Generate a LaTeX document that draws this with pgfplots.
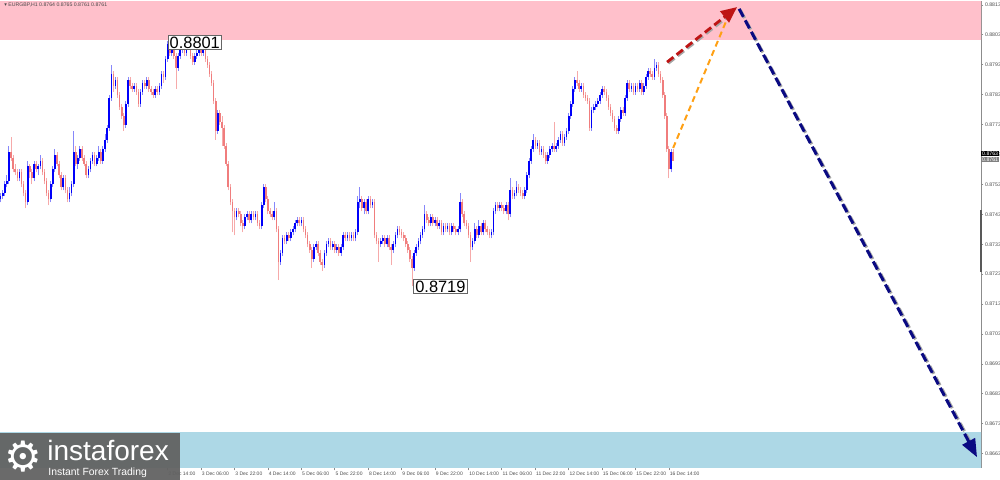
\documentclass[border=0pt]{standalone}
\usepackage{pgfplots}
\pgfplotsset{compat=1.18}
\usepackage{pgfplotstable}
\usepackage{fontspec}
\setmainfont{Liberation Sans}
\newfontfamily\djv{DejaVu Sans}
\usetikzlibrary{arrows.meta}
\definecolor{bodyup}{RGB}{0,0,250}
\definecolor{wickup}{RGB}{135,135,250}
\definecolor{bodydn}{RGB}{240,125,125}
\definecolor{wickdn}{RGB}{246,170,170}
\definecolor{zonepink}{RGB}{255,192,203}
\definecolor{zoneblue}{RGB}{173,216,230}
\definecolor{arrred}{RGB}{190,20,20}
\definecolor{arrorange}{RGB}{255,160,20}
\definecolor{arrnavy}{RGB}{10,10,130}
\definecolor{logogray}{RGB}{98,98,98}
\pgfplotstableread{
o h l c
0.8748 0.8750 0.8747 0.8749
0.8749 0.8751 0.8748 0.8750
0.8750 0.8754 0.8749 0.8753
0.8753 0.8756 0.8752 0.8754
0.8754 0.8766 0.8753 0.8764
0.8764 0.8769 0.8761 0.8762
0.8762 0.8763 0.8757 0.8758
0.8758 0.8760 0.8756 0.8757
0.8757 0.8758 0.8754 0.8755
0.8755 0.8758 0.8754 0.8757
0.8757 0.8758 0.8752 0.8753
0.8753 0.8754 0.8749 0.8750
0.8750 0.8751 0.8745 0.8747
0.8747 0.8761 0.8746 0.8759
0.8759 0.8760 0.8755 0.8757
0.8757 0.8758 0.8753 0.8755
0.8755 0.8761 0.8754 0.8760
0.8760 0.8761 0.8757 0.8758
0.8758 0.8760 0.8756 0.8759
0.8759 0.8763 0.8758 0.8761
0.8761 0.8762 0.8756 0.8757
0.8757 0.8758 0.8753 0.8754
0.8754 0.8755 0.8749 0.8750
0.8750 0.8751 0.8746 0.8748
0.8748 0.8754 0.8747 0.8753
0.8753 0.8759 0.8752 0.8758
0.8758 0.8765 0.8757 0.8763
0.8763 0.8764 0.8759 0.8760
0.8760 0.8761 0.8755 0.8756
0.8756 0.8757 0.8751 0.8752
0.8752 0.8756 0.8751 0.8755
0.8755 0.8756 0.8750 0.8751
0.8751 0.8752 0.8747 0.8748
0.8748 0.8752 0.8747 0.8750
0.8750 0.8754 0.8749 0.8753
0.8753 0.8771 0.8752 0.8764
0.8764 0.8766 0.8759 0.8760
0.8760 0.8763 0.8758 0.8762
0.8762 0.8766 0.8761 0.8765
0.8765 0.8766 0.8761 0.8762
0.8762 0.8763 0.8759 0.8760
0.8760 0.8761 0.8755 0.8756
0.8756 0.8759 0.8755 0.8758
0.8758 0.8762 0.8757 0.8761
0.8761 0.8764 0.8760 0.8763
0.8763 0.8764 0.8759 0.8760
0.8760 0.8763 0.8759 0.8762
0.8762 0.8766 0.8761 0.8764
0.8764 0.8765 0.8760 0.8761
0.8761 0.8766 0.8760 0.8765
0.8765 0.8770 0.8764 0.8768
0.8768 0.8773 0.8767 0.8772
0.8772 0.8783 0.8771 0.8782
0.8782 0.8793 0.8781 0.8790
0.8790 0.8791 0.8784 0.8786
0.8786 0.8789 0.8785 0.8788
0.8788 0.8789 0.8782 0.8783
0.8783 0.8784 0.8778 0.8779
0.8779 0.8780 0.8775 0.8776
0.8776 0.8777 0.8771 0.8773
0.8773 0.8781 0.8772 0.8780
0.8780 0.8789 0.8779 0.8788
0.8788 0.8789 0.8785 0.8786
0.8786 0.8787 0.8784 0.8785
0.8785 0.8787 0.8784 0.8786
0.8786 0.8787 0.8783 0.8784
0.8784 0.8785 0.8779 0.8780
0.8780 0.8785 0.8779 0.8784
0.8784 0.8788 0.8783 0.8787
0.8787 0.8788 0.8785 0.8786
0.8786 0.8789 0.8785 0.8788
0.8788 0.8789 0.8784 0.8785
0.8785 0.8786 0.8783 0.8784
0.8784 0.8785 0.8782 0.8783
0.8783 0.8786 0.8782 0.8785
0.8785 0.8786 0.8783 0.8784
0.8784 0.8787 0.8783 0.8786
0.8786 0.8791 0.8785 0.8790
0.8790 0.8791 0.8787 0.8789
0.8789 0.8796 0.8788 0.8795
0.8795 0.8801 0.8794 0.8800
0.8800 0.8800 0.8796 0.8797
0.8797 0.8800 0.8796 0.8799
0.8799 0.8800 0.8795 0.8796
0.8796 0.8797 0.8785 0.8792
0.8792 0.8797 0.8791 0.8796
0.8796 0.8799 0.8795 0.8798
0.8798 0.8800 0.8797 0.8799
0.8799 0.8800 0.8796 0.8797
0.8797 0.8800 0.8796 0.8799
0.8799 0.8801 0.8798 0.8800
0.8800 0.8800 0.8795 0.8796
0.8796 0.8797 0.8793 0.8794
0.8794 0.8797 0.8793 0.8796
0.8796 0.8798 0.8795 0.8797
0.8797 0.8799 0.8796 0.8798
0.8798 0.8799 0.8796 0.8797
0.8797 0.8799 0.8796 0.8798
0.8798 0.8799 0.8794 0.8795
0.8795 0.8796 0.8792 0.8793
0.8793 0.8794 0.8789 0.8790
0.8790 0.8791 0.8786 0.8787
0.8787 0.8788 0.8780 0.8781
0.8781 0.8782 0.8768 0.8771
0.8771 0.8778 0.8770 0.8777
0.8777 0.8778 0.8773 0.8774
0.8774 0.8776 0.8766 0.8772
0.8772 0.8773 0.8765 0.8766
0.8766 0.8767 0.8759 0.8760
0.8760 0.8761 0.8751 0.8752
0.8752 0.8753 0.8746 0.8747
0.8747 0.8748 0.8737 0.8744
0.8744 0.8745 0.8736 0.8742
0.8742 0.8745 0.8741 0.8744
0.8744 0.8745 0.8742 0.8743
0.8743 0.8744 0.8739 0.8740
0.8740 0.8741 0.8737 0.8739
0.8739 0.8743 0.8738 0.8742
0.8742 0.8744 0.8741 0.8743
0.8743 0.8744 0.8740 0.8741
0.8741 0.8744 0.8740 0.8743
0.8743 0.8744 0.8741 0.8742
0.8742 0.8744 0.8741 0.8743
0.8743 0.8744 0.8739 0.8740
0.8740 0.8741 0.8738 0.8739
0.8739 0.8747 0.8738 0.8746
0.8746 0.8753 0.8745 0.8752
0.8752 0.8753 0.8747 0.8748
0.8748 0.8749 0.8743 0.8744
0.8744 0.8745 0.8742 0.8743
0.8743 0.8744 0.8741 0.8742
0.8742 0.8747 0.8741 0.8744
0.8744 0.8745 0.8737 0.8738
0.8738 0.8739 0.8721 0.8727
0.8727 0.8731 0.8726 0.8730
0.8730 0.8736 0.8729 0.8735
0.8735 0.8736 0.8733 0.8734
0.8734 0.8737 0.8733 0.8736
0.8736 0.8737 0.8734 0.8735
0.8735 0.8738 0.8734 0.8737
0.8737 0.8739 0.8736 0.8738
0.8738 0.8741 0.8737 0.8740
0.8740 0.8742 0.8739 0.8741
0.8741 0.8742 0.8739 0.8740
0.8740 0.8742 0.8739 0.8741
0.8741 0.8742 0.8737 0.8738
0.8738 0.8739 0.8735 0.8736
0.8736 0.8737 0.8732 0.8733
0.8733 0.8734 0.8730 0.8731
0.8731 0.8732 0.8725 0.8728
0.8728 0.8733 0.8727 0.8732
0.8732 0.8734 0.8731 0.8733
0.8733 0.8734 0.8729 0.8730
0.8730 0.8731 0.8726 0.8727
0.8727 0.8728 0.8724 0.8726
0.8726 0.8731 0.8725 0.8730
0.8730 0.8734 0.8729 0.8733
0.8733 0.8735 0.8732 0.8734
0.8734 0.8735 0.8731 0.8732
0.8732 0.8734 0.8731 0.8733
0.8733 0.8734 0.8730 0.8731
0.8731 0.8733 0.8730 0.8732
0.8732 0.8733 0.8729 0.8730
0.8730 0.8733 0.8729 0.8732
0.8732 0.8737 0.8731 0.8736
0.8736 0.8737 0.8734 0.8735
0.8735 0.8737 0.8734 0.8736
0.8736 0.8737 0.8734 0.8735
0.8735 0.8737 0.8734 0.8736
0.8736 0.8737 0.8734 0.8735
0.8735 0.8738 0.8734 0.8737
0.8737 0.8749 0.8736 0.8747
0.8747 0.8752 0.8745 0.8748
0.8748 0.8749 0.8744 0.8745
0.8745 0.8748 0.8743 0.8747
0.8747 0.8748 0.8743 0.8744
0.8744 0.8749 0.8743 0.8748
0.8748 0.8749 0.8745 0.8746
0.8746 0.8748 0.8745 0.8747
0.8747 0.8748 0.8735 0.8736
0.8736 0.8737 0.8733 0.8734
0.8734 0.8735 0.8727 0.8733
0.8733 0.8735 0.8732 0.8734
0.8734 0.8736 0.8733 0.8735
0.8735 0.8736 0.8732 0.8733
0.8733 0.8736 0.8732 0.8735
0.8735 0.8736 0.8731 0.8732
0.8732 0.8733 0.8726 0.8731
0.8731 0.8734 0.8730 0.8733
0.8733 0.8737 0.8732 0.8736
0.8736 0.8739 0.8735 0.8738
0.8738 0.8739 0.8736 0.8737
0.8737 0.8738 0.8735 0.8736
0.8736 0.8737 0.8734 0.8735
0.8735 0.8736 0.8732 0.8733
0.8733 0.8734 0.8730 0.8731
0.8731 0.8732 0.8727 0.8728
0.8728 0.8729 0.8719 0.8725
0.8725 0.8731 0.8724 0.8730
0.8730 0.8733 0.8729 0.8732
0.8732 0.8735 0.8731 0.8734
0.8734 0.8737 0.8733 0.8736
0.8736 0.8739 0.8735 0.8738
0.8738 0.8746 0.8737 0.8743
0.8743 0.8744 0.8740 0.8741
0.8741 0.8742 0.8739 0.8740
0.8740 0.8743 0.8739 0.8742
0.8742 0.8743 0.8739 0.8740
0.8740 0.8742 0.8739 0.8741
0.8741 0.8742 0.8738 0.8739
0.8739 0.8741 0.8738 0.8740
0.8740 0.8741 0.8736 0.8737
0.8737 0.8740 0.8736 0.8739
0.8739 0.8740 0.8737 0.8738
0.8738 0.8740 0.8737 0.8739
0.8739 0.8740 0.8736 0.8737
0.8737 0.8740 0.8736 0.8739
0.8739 0.8740 0.8737 0.8738
0.8738 0.8739 0.8736 0.8737
0.8737 0.8739 0.8736 0.8738
0.8738 0.8750 0.8737 0.8747
0.8747 0.8748 0.8742 0.8743
0.8743 0.8744 0.8739 0.8740
0.8740 0.8741 0.8738 0.8739
0.8739 0.8740 0.8735 0.8736
0.8736 0.8737 0.8727 0.8732
0.8732 0.8735 0.8731 0.8734
0.8734 0.8740 0.8733 0.8738
0.8738 0.8739 0.8735 0.8736
0.8736 0.8741 0.8735 0.8739
0.8739 0.8740 0.8736 0.8737
0.8737 0.8741 0.8736 0.8740
0.8740 0.8741 0.8737 0.8738
0.8738 0.8739 0.8736 0.8737
0.8737 0.8738 0.8735 0.8736
0.8736 0.8738 0.8735 0.8737
0.8737 0.8745 0.8736 0.8744
0.8744 0.8747 0.8743 0.8746
0.8746 0.8747 0.8744 0.8745
0.8745 0.8747 0.8744 0.8746
0.8746 0.8747 0.8744 0.8745
0.8745 0.8746 0.8743 0.8744
0.8744 0.8747 0.8743 0.8746
0.8746 0.8747 0.8741 0.8743
0.8743 0.8755 0.8742 0.8751
0.8751 0.8752 0.8748 0.8749
0.8749 0.8751 0.8748 0.8750
0.8750 0.8754 0.8749 0.8752
0.8752 0.8753 0.8750 0.8751
0.8751 0.8752 0.8749 0.8750
0.8750 0.8751 0.8748 0.8749
0.8749 0.8752 0.8748 0.8751
0.8751 0.8757 0.8750 0.8756
0.8756 0.8762 0.8755 0.8761
0.8761 0.8766 0.8760 0.8765
0.8765 0.8770 0.8764 0.8768
0.8768 0.8769 0.8765 0.8766
0.8766 0.8768 0.8765 0.8767
0.8767 0.8768 0.8763 0.8764
0.8764 0.8766 0.8763 0.8765
0.8765 0.8766 0.8762 0.8763
0.8763 0.8764 0.8760 0.8761
0.8761 0.8764 0.8760 0.8763
0.8763 0.8766 0.8762 0.8765
0.8765 0.8767 0.8764 0.8766
0.8766 0.8774 0.8764 0.8765
0.8765 0.8767 0.8764 0.8766
0.8766 0.8769 0.8765 0.8768
0.8768 0.8771 0.8767 0.8770
0.8770 0.8771 0.8766 0.8767
0.8767 0.8770 0.8766 0.8769
0.8769 0.8772 0.8768 0.8771
0.8771 0.8777 0.8770 0.8776
0.8776 0.8781 0.8775 0.8780
0.8780 0.8786 0.8779 0.8785
0.8785 0.8789 0.8784 0.8788
0.8788 0.8791 0.8786 0.8787
0.8787 0.8788 0.8784 0.8785
0.8785 0.8787 0.8784 0.8786
0.8786 0.8787 0.8782 0.8783
0.8783 0.8784 0.8781 0.8782
0.8782 0.8783 0.8780 0.8781
0.8781 0.8782 0.8771 0.8772
0.8772 0.8779 0.8771 0.8778
0.8778 0.8780 0.8777 0.8779
0.8779 0.8781 0.8778 0.8780
0.8780 0.8782 0.8779 0.8781
0.8781 0.8784 0.8780 0.8783
0.8783 0.8786 0.8782 0.8785
0.8785 0.8786 0.8783 0.8784
0.8784 0.8785 0.8781 0.8782
0.8782 0.8783 0.8778 0.8779
0.8779 0.8780 0.8776 0.8777
0.8777 0.8778 0.8774 0.8775
0.8775 0.8776 0.8771 0.8772
0.8772 0.8773 0.8770 0.8771
0.8771 0.8776 0.8770 0.8775
0.8775 0.8779 0.8774 0.8778
0.8778 0.8779 0.8776 0.8777
0.8777 0.8783 0.8776 0.8782
0.8782 0.8788 0.8781 0.8787
0.8787 0.8788 0.8784 0.8785
0.8785 0.8787 0.8784 0.8786
0.8786 0.8787 0.8783 0.8784
0.8784 0.8787 0.8783 0.8786
0.8786 0.8787 0.8784 0.8785
0.8785 0.8788 0.8784 0.8787
0.8787 0.8788 0.8783 0.8784
0.8784 0.8787 0.8783 0.8786
0.8786 0.8790 0.8785 0.8789
0.8789 0.8792 0.8788 0.8791
0.8791 0.8792 0.8789 0.8790
0.8790 0.8791 0.8788 0.8789
0.8789 0.8795 0.8788 0.8792
0.8792 0.8794 0.8791 0.8793
0.8793 0.8794 0.8789 0.8790
0.8790 0.8791 0.8787 0.8788
0.8788 0.8789 0.8782 0.8783
0.8783 0.8784 0.8775 0.8776
0.8776 0.8777 0.8764 0.8765
0.8765 0.8766 0.8755 0.8758
0.8758 0.8765 0.8757 0.8764
0.8764 0.8765 0.8761 0.8761
}\candles

\begin{document}
\begin{tikzpicture}
\path[use as bounding box] (0,-6pt) rectangle (500pt,234pt);
\begin{axis}[
  at={(0,0)}, anchor=south west,
  scale only axis, width=490.5pt, height=233pt,
  xmin=-0.3, xmax=469.4, ymin=0.86582, ymax=0.88140,
  clip mode=individual,
  axis line style={draw=black!45, line width=0.5pt},
  xtick={80,96,...,320},
  xticklabels={2 Dec 14:00,3 Dec 06:00,3 Dec 22:00,4 Dec 14:00,5 Dec 06:00,5 Dec 22:00,8 Dec 14:00,9 Dec 06:00,9 Dec 22:00,10 Dec 14:00,11 Dec 06:00,11 Dec 22:00,12 Dec 14:00,15 Dec 06:00,15 Dec 22:00,16 Dec 14:00},
  xtick pos=bottom, ytick pos=right, yticklabel pos=right,
  tick align=outside, major tick length=1.2pt,
  tick style={draw=black!45, line width=0.4pt},
  xticklabel style={anchor=north west, font=\fontsize{2.5}{3}\selectfont, text=black!70, inner sep=0.4pt, xshift=-0.2pt},
  ytick={0.8663,0.8673,0.8683,0.8693,0.8703,0.8713,0.8723,0.8733,0.8743,0.8753,0.8763,0.8773,0.8783,0.8793,0.8803,0.8813},
  scaled y ticks=false,
  yticklabel style={anchor=west, font=\fontsize{2.6}{3}\selectfont, text=black!70, inner sep=0.6pt, /pgf/number format/.cd, fixed, fixed zerofill, precision=4, assume math mode=true},
  candle/.style={draw=none, no markers, forget plot},
]
% zones
\addplot[draw=none, fill=zonepink, forget plot] coordinates {(-5,0.88013) (480,0.88013) (480,0.8820) (-5,0.8820)} -- cycle;
\addplot[draw=none, fill=zoneblue, forget plot] coordinates {(-5,0.86702) (480,0.86702) (480,0.8650) (-5,0.8650)} -- cycle;
% wicks
\addplot[candle,
  restrict expr to domain={\thisrow{c}-\thisrow{o}}{0:1},
  error bars/.cd, y dir=plus, y explicit, error mark=none,
  error bar style={draw=wickup, line width=0.5pt}]
  table[x expr=\coordindex, y=l, y error expr=\thisrow{h}-\thisrow{l}] {\candles};
\addplot[candle,
  restrict expr to domain={\thisrow{c}-\thisrow{o}}{-1:-0.00005},
  error bars/.cd, y dir=plus, y explicit, error mark=none,
  error bar style={draw=wickdn, line width=0.5pt}]
  table[x expr=\coordindex, y=l, y error expr=\thisrow{h}-\thisrow{l}] {\candles};
% bodies
\addplot[candle,
  restrict expr to domain={\thisrow{c}-\thisrow{o}}{0:1},
  error bars/.cd, y dir=plus, y explicit, error mark=none,
  error bar style={draw=bodyup, line width=0.8pt}]
  table[x expr=\coordindex, y=o, y error expr=\thisrow{c}-\thisrow{o}] {\candles};
\addplot[candle,
  restrict expr to domain={\thisrow{c}-\thisrow{o}}{-1:-0.00005},
  error bars/.cd, y dir=plus, y explicit, error mark=none,
  error bar style={draw=bodydn, line width=0.8pt}]
  table[x expr=\coordindex, y=c, y error expr=\thisrow{o}-\thisrow{c}] {\candles};
% forecast arrows (shadows first)
\addplot[draw=black!35, line width=1.5pt, dash pattern=on 4.5pt off 2pt, xshift=0.6pt, yshift=-0.6pt, forget plot] coordinates {(353.6,0.88117) (465.8,0.86645)};
\addplot[draw=arrnavy, line width=1.5pt, dash pattern=on 4.5pt off 2pt, -{Triangle[length=9pt,width=7pt]}, forget plot] coordinates {(353.6,0.88117) (467.5,0.86618)};
\addplot[draw=arrorange, line width=1pt, dash pattern=on 3pt off 2pt, forget plot] coordinates {(322,0.87652) (347.8,0.88083)};
\addplot[draw=black!35, line width=1.4pt, dash pattern=on 4pt off 2pt, xshift=0.6pt, yshift=-0.6pt, forget plot] coordinates {(319.1,0.87939) (348.5,0.88100)};
\addplot[draw=arrred, line width=1.4pt, dash pattern=on 4pt off 2pt, -{Triangle[length=8pt,width=7pt]}, forget plot] coordinates {(319.1,0.87939) (352.6,0.88123)};
% extreme labels
\node[draw=black!60, fill=white, inner sep=0.8pt, anchor=west, font=\fontsize{8.2}{9}\selectfont] at (axis cs:80,0.88005) {0.8801};
\node[draw=black!60, fill=white, inner sep=0.8pt, anchor=west, font=\fontsize{8.2}{9}\selectfont] at (axis cs:197.6,0.87189) {0.8719};
% current price boxes
\node[fill=black, text=white, inner sep=0.4pt, anchor=west, font=\fontsize{2.6}{3}\selectfont] at (axis cs:469.4,0.87634) {0.8763};
\node[fill=black!50, text=white, inner sep=0.4pt, anchor=west, font=\fontsize{2.6}{3}\selectfont] at (axis cs:469.4,0.87614) {0.8761};
\draw[black!65, line width=0.8pt] (axis cs:469.4,0.87444) -- (axis cs:469.4,0.87237);
% title
\node[anchor=west, inner sep=0pt, text=black!70, font=\fontsize{2.6}{3}\selectfont] at (rel axis cs:0.004,0.993) {{\djv ▾}\ EURGBP,H1\ 0.8764 0.8765 0.8761 0.8761};
\end{axis}
% logo
\fill[logogray, opacity=0.95] (0,-6pt) rectangle (90pt,17.5pt);
\node[text=white, inner sep=0pt, font=\djv\fontsize{21}{21}\selectfont] at (11.5pt,5.5pt) {⚙};
\node[anchor=base west, inner sep=0pt, text=white] at (23.5pt,3.5pt) {\rlap{\raisebox{-7.3pt}[0pt][0pt]{\hspace{0.5pt}\fontsize{5.2}{6}\selectfont Instant Forex Trading}}\fontsize{14}{14}\selectfont instaforex};
\end{tikzpicture}
\end{document}
